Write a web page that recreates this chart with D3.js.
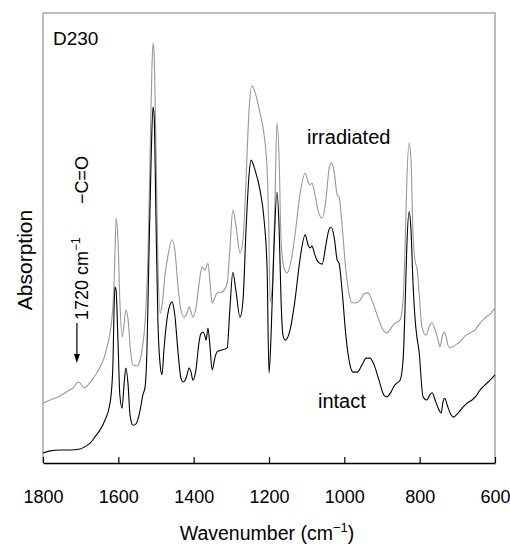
<!DOCTYPE html>
<html>
<head>
<meta charset="utf-8">
<script src="https://cdn.jsdelivr.net/npm/d3@7"></script>
<style>
  body { margin: 0; background: #fff; }
  text { font-family: "Liberation Sans", Arial, sans-serif; fill: #000; }
</style>
</head>
<body>
<svg id="chart" width="510" height="552"></svg>
<script>
// wavenumber (cm-1), absorption (arb. units)
var irradiated = [
  [1800,13.3],[1781,14.0],[1755,14.9],[1734,16.0],[1720,16.7],[1712,17.6],[1707,18.0],[1702,17.8],
  [1696,17.1],[1689,16.7],[1681,17.3],[1670,18.4],[1649,21.3],[1638,23.3],[1630,25.8],[1622,28.9],
  [1617,32.2],[1612,38.4],[1609,46.2],[1606,54.4],[1601,49.6],[1596,36.2],[1590,28.0],[1585,30.7],
  [1580,34.0],[1574,31.8],[1569,26.2],[1561,21.8],[1550,21.6],[1542,22.9],[1537,25.1],[1532,28.4],
  [1527,34.0],[1521,47.3],[1516,67.3],[1511,87.3],[1508,93.3],[1505,90.7],[1500,69.6],[1495,45.1],
  [1489,33.3],[1484,35.1],[1476,41.8],[1468,46.2],[1458,49.6],[1450,47.3],[1442,39.6],[1434,34.0],
  [1426,32.4],[1418,33.3],[1412,34.7],[1407,33.6],[1402,32.4],[1394,34.4],[1386,39.6],[1378,43.6],
  [1370,42.9],[1362,44.4],[1357,40.7],[1351,35.6],[1343,36.9],[1338,37.8],[1325,38.0],[1311,40.0],
  [1304,47.3],[1296,56.2],[1288,52.9],[1277,46.7],[1269,49.6],[1261,62.9],[1253,78.4],[1245,83.8],
  [1235,81.8],[1224,77.8],[1213,72.9],[1205,65.1],[1200,49.6],[1197,35.8],[1192,38.4],[1184,58.4],
  [1179,75.6],[1173,67.3],[1168,49.6],[1160,43.3],[1152,42.2],[1142,44.7],[1131,50.7],[1118,59.6],
  [1104,64.4],[1096,62.4],[1091,61.8],[1086,62.2],[1078,59.6],[1070,56.2],[1059,54.4],[1049,58.4],
  [1041,65.1],[1035,66.7],[1027,64.7],[1019,59.6],[1014,59.1],[1006,52.9],[996,42.9],[985,36.7],
  [980,35.6],[969,35.6],[958,36.2],[948,37.6],[937,37.8],[927,36.2],[913,32.9],[900,30.0],
  [887,28.9],[879,29.6],[868,30.9],[860,31.3],[852,31.8],[844,36.2],[839,47.3],[834,62.9],
  [828,71.1],[823,67.3],[818,51.8],[812,44.7],[807,43.3],[802,38.4],[794,30.2],[783,28.4],
  [773,30.7],[767,31.1],[759,29.6],[751,27.3],[746,25.8],[741,27.8],[735,29.1],[730,28.2],
  [725,26.2],[719,25.6],[706,26.2],[693,26.9],[680,28.2],[666,28.9],[653,29.6],[640,31.1],
  [627,32.2],[613,33.1],[600,34.4]
];

var intact = [
  [1800,2.2],[1781,2.7],[1755,2.9],[1728,2.9],[1702,3.1],[1689,3.6],[1675,4.4],[1662,5.8],
  [1649,7.3],[1635,9.6],[1622,13.3],[1617,17.3],[1614,22.9],[1612,31.8],[1609,39.1],[1606,38.4],
  [1601,27.3],[1596,15.1],[1590,12.2],[1585,17.3],[1580,21.1],[1574,17.3],[1569,10.7],[1561,8.4],
  [1553,8.7],[1542,11.8],[1535,15.1],[1529,16.9],[1524,25.1],[1519,45.1],[1513,67.3],[1508,79.1],
  [1505,77.3],[1500,54.0],[1495,31.8],[1489,21.8],[1484,19.6],[1479,25.1],[1471,31.8],[1463,35.1],
  [1458,35.8],[1450,32.9],[1442,25.1],[1434,18.9],[1428,18.0],[1420,18.9],[1412,21.1],[1407,20.2],
  [1402,18.4],[1394,20.7],[1386,26.7],[1381,28.7],[1375,29.1],[1370,28.2],[1367,27.3],[1362,30.0],
  [1357,26.2],[1351,20.7],[1343,23.6],[1338,24.7],[1325,25.1],[1311,25.6],[1304,34.0],[1296,42.4],
  [1288,38.4],[1277,32.4],[1269,36.2],[1261,51.8],[1253,64.0],[1248,67.3],[1237,65.1],[1224,60.7],
  [1213,54.0],[1205,42.9],[1200,20.0],[1195,27.3],[1187,47.3],[1179,60.2],[1173,51.8],[1168,36.2],
  [1163,28.4],[1157,27.3],[1144,29.6],[1131,36.2],[1118,45.1],[1104,50.7],[1096,48.4],[1091,47.8],
  [1086,48.2],[1078,46.2],[1070,44.7],[1059,44.2],[1049,48.4],[1041,51.8],[1035,52.4],[1027,50.2],
  [1019,45.1],[1014,44.4],[1006,38.4],[996,28.4],[985,21.8],[977,20.2],[966,20.2],[953,21.8],
  [942,23.3],[932,23.3],[921,21.8],[908,18.4],[895,15.1],[887,14.7],[876,15.8],[868,17.1],
  [860,17.8],[852,18.4],[844,22.9],[839,34.0],[834,48.4],[828,55.8],[823,51.8],[818,40.7],
  [812,31.8],[807,27.8],[802,25.1],[791,14.7],[781,14.0],[773,15.1],[767,15.6],[759,14.0],
  [751,12.2],[743,11.1],[738,13.6],[733,14.4],[727,12.9],[719,11.1],[711,10.2],[698,11.1],
  [685,12.4],[674,13.3],[661,14.0],[650,14.9],[640,16.2],[627,17.3],[613,18.4],[600,19.6]
];

var xTicks = [1800, 1600, 1400, 1200, 1000, 800, 600];

var svg = d3.select('#chart');
var plotLeft = 43, plotRight = 495, plotTop = 13, plotBottom = 463;

var x = d3.scaleLinear().domain([1800, 600]).range([plotLeft, plotRight]);
var y = d3.scaleLinear().domain([0, 100]).range([plotBottom, plotTop]);

// frame (grey on three sides)
svg.append('path')
    .attr('d', 'M' + plotLeft + ',' + plotBottom + 'V' + plotTop + 'H' + plotRight + 'V' + plotBottom)
    .attr('fill', 'none')
    .attr('stroke', '#a8a8a8')
    .attr('stroke-width', 1.5);

var line = d3.line()
    .x(function(d) { return x(d[0]); })
    .y(function(d) { return y(d[1]); })
    .curve(d3.curveMonotoneX);

svg.append('path')
    .datum(irradiated)
    .attr('d', line)
    .attr('fill', 'none')
    .attr('stroke', '#999')
    .attr('stroke-width', 1.1);

svg.append('path')
    .datum(intact)
    .attr('d', line)
    .attr('fill', 'none')
    .attr('stroke', '#000')
    .attr('stroke-width', 1.1);

var xAxis = d3.axisBottom(x)
    .tickValues(xTicks)
    .tickSizeInner(-6)
    .tickSizeOuter(0)
    .tickPadding(27)
    .tickFormat(d3.format('d'));

var gx = svg.append('g')
    .attr('transform', 'translate(0,' + plotBottom + ')')
    .call(xAxis);
gx.select('.domain').attr('stroke', '#000').attr('stroke-width', 1.5);
gx.selectAll('.tick line').attr('stroke', '#000').attr('stroke-width', 1.2);
gx.selectAll('.tick text')
    .attr('font-family', '"Liberation Sans", Arial, sans-serif')
    .attr('font-size', 18)
    .attr('fill', '#000');

// axis titles
var xt = svg.append('text')
    .attr('x', (plotLeft + plotRight) / 2 - 2)
    .attr('y', 540)
    .attr('text-anchor', 'middle')
    .attr('font-size', 19.5);
xt.append('tspan').text('Wavenumber (cm');
xt.append('tspan').attr('dy', -8).attr('font-size', 13).text('\u22121');
xt.append('tspan').attr('dy', 8).text(')');

svg.append('text')
    .attr('transform', 'translate(32,260) rotate(-90)')
    .attr('text-anchor', 'middle')
    .attr('font-size', 21)
    .text('Absorption');

// labels
svg.append('text').attr('x', 53).attr('y', 45).attr('font-size', 19).text('D230');
svg.append('text').attr('x', 307).attr('y', 144).attr('font-size', 20).text('irradiated');
svg.append('text').attr('x', 318).attr('y', 408).attr('font-size', 20).text('intact');

// carbonyl annotation
var ax = x(1710);
svg.append('path')
    .attr('d', 'M' + ax + ',323V356')
    .attr('stroke', '#000')
    .attr('stroke-width', 1.2);
svg.append('path')
    .attr('d', 'M' + (ax - 3) + ',354L' + ax + ',363L' + (ax + 3) + ',354Z')
    .attr('fill', '#000');

var ann = svg.append('text')
    .attr('transform', 'translate(' + (ax + 11) + ',320) rotate(-90)')
    .attr('font-size', 18);
ann.append('tspan').text('1720 cm');
ann.append('tspan').attr('dy', -8).attr('font-size', 12).text('\u22121');

svg.append('text')
    .attr('transform', 'translate(' + (ax + 11) + ',204) rotate(-90)')
    .attr('font-size', 18)
    .text('\u2212C=O');
</script>
</body>
</html>
